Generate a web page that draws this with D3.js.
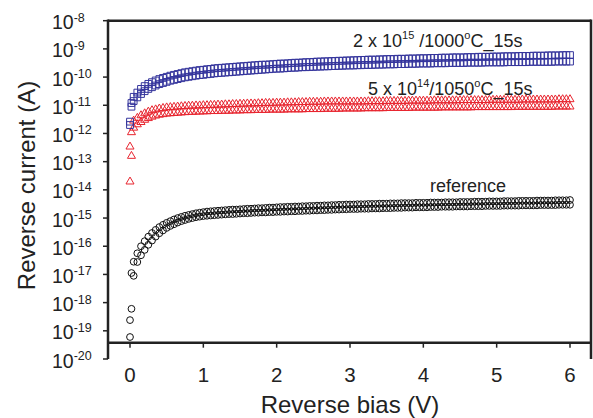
<!DOCTYPE html>
<html><head><meta charset="utf-8">
<script src="https://cdn.jsdelivr.net/npm/d3@7"></script>
<style>
html,body{margin:0;padding:0;background:#fff;}
svg text{font-family:"Liberation Sans",Arial,sans-serif;fill:#222;}
</style></head>
<body>
<svg id="chart" width="593" height="418"></svg>
<script>
// Reverse bias (V) sample positions
const biasV = [0,0.02,0.05,0.1,0.15,0.2,0.25,0.3,0.35,0.4,0.45,0.5,0.55,0.6,0.65,0.7,0.75,0.8,0.85,0.9,0.95,1,
1.05,1.1,1.15,1.2,1.25,1.3,1.35,1.4,1.45,1.5,1.55,1.6,1.65,1.7,1.75,1.8,1.85,1.9,1.95,2,
2.05,2.1,2.15,2.2,2.25,2.3,2.35,2.4,2.45,2.5,2.55,2.6,2.65,2.7,2.75,2.8,2.85,2.9,2.95,3,
3.05,3.1,3.15,3.2,3.25,3.3,3.35,3.4,3.45,3.5,3.55,3.6,3.65,3.7,3.75,3.8,3.85,3.9,3.95,4,
4.05,4.1,4.15,4.2,4.25,4.3,4.35,4.4,4.45,4.5,4.55,4.6,4.65,4.7,4.75,4.8,4.85,4.9,4.95,5,
5.05,5.1,5.15,5.2,5.25,5.3,5.35,5.4,5.45,5.5,5.55,5.6,5.65,5.7,5.75,5.8,5.85,5.9,5.95,6];

// log10 of reverse current (A), two sweeps per sample
const blueSweepA = [-11.58,-10.92,-10.70,-10.55,-10.42,-10.32,-10.24,-10.18,-10.12,-10.07,-10.03,-9.99,-9.95,-9.92,-9.89,-9.86,-9.83,-9.81,-9.79,-9.77,-9.75,-9.74,
-9.72,-9.71,-9.69,-9.68,-9.67,-9.66,-9.65,-9.64,-9.63,-9.62,-9.61,-9.60,-9.59,-9.58,-9.57,-9.56,-9.56,-9.55,-9.54,-9.53,
-9.52,-9.52,-9.51,-9.50,-9.49,-9.49,-9.48,-9.47,-9.47,-9.46,-9.45,-9.45,-9.44,-9.44,-9.43,-9.43,-9.42,-9.42,-9.41,-9.41,
-9.40,-9.40,-9.39,-9.39,-9.38,-9.38,-9.38,-9.37,-9.37,-9.36,-9.36,-9.36,-9.35,-9.35,-9.35,-9.34,-9.34,-9.34,-9.33,-9.33,
-9.33,-9.32,-9.32,-9.32,-9.31,-9.31,-9.31,-9.30,-9.30,-9.30,-9.30,-9.29,-9.29,-9.29,-9.28,-9.28,-9.28,-9.28,-9.27,-9.27,
-9.27,-9.26,-9.26,-9.26,-9.26,-9.25,-9.25,-9.25,-9.25,-9.24,-9.24,-9.24,-9.24,-9.23,-9.23,-9.23,-9.23,-9.22,-9.22,-9.22];
const blueSweepB = [-11.70,-11.05,-10.85,-10.72,-10.60,-10.50,-10.42,-10.36,-10.30,-10.25,-10.21,-10.17,-10.13,-10.10,-10.07,-10.04,-10.01,-9.99,-9.97,-9.95,-9.93,-9.92,
-9.90,-9.89,-9.87,-9.86,-9.85,-9.84,-9.83,-9.82,-9.81,-9.80,-9.79,-9.78,-9.77,-9.76,-9.75,-9.74,-9.73,-9.72,-9.71,-9.70,
-9.70,-9.69,-9.68,-9.67,-9.67,-9.66,-9.65,-9.65,-9.64,-9.64,-9.63,-9.63,-9.62,-9.62,-9.61,-9.61,-9.60,-9.60,-9.59,-9.59,
-9.59,-9.58,-9.58,-9.57,-9.57,-9.57,-9.56,-9.56,-9.56,-9.55,-9.55,-9.55,-9.54,-9.54,-9.54,-9.53,-9.53,-9.53,-9.52,-9.52,
-9.52,-9.52,-9.51,-9.51,-9.51,-9.51,-9.50,-9.50,-9.50,-9.50,-9.50,-9.49,-9.49,-9.49,-9.49,-9.49,-9.48,-9.48,-9.48,-9.48,
-9.48,-9.48,-9.47,-9.47,-9.47,-9.47,-9.47,-9.47,-9.46,-9.46,-9.46,-9.46,-9.46,-9.46,-9.46,-9.45,-9.45,-9.45,-9.45,-9.45];

const redSweepA = [-12.47,-11.96,-11.55,-11.45,-11.36,-11.29,-11.23,-11.18,-11.15,-11.12,-11.10,-11.08,-11.07,-11.06,-11.05,-11.04,-11.03,-11.02,-11.02,-11.01,-11.01,-11.00,
-11.00,-10.99,-10.99,-10.98,-10.98,-10.97,-10.97,-10.96,-10.96,-10.95,-10.95,-10.94,-10.94,-10.94,-10.93,-10.93,-10.92,-10.92,-10.92,-10.91,
-10.91,-10.91,-10.90,-10.90,-10.90,-10.89,-10.89,-10.89,-10.88,-10.88,-10.88,-10.88,-10.87,-10.87,-10.87,-10.87,-10.87,-10.87,-10.87,-10.87,
-10.87,-10.87,-10.87,-10.87,-10.86,-10.86,-10.86,-10.86,-10.86,-10.85,-10.85,-10.85,-10.85,-10.85,-10.85,-10.84,-10.84,-10.84,-10.84,-10.84,
-10.84,-10.84,-10.83,-10.83,-10.83,-10.83,-10.83,-10.83,-10.83,-10.82,-10.82,-10.82,-10.82,-10.82,-10.82,-10.82,-10.82,-10.81,-10.81,-10.81,
-10.81,-10.81,-10.81,-10.81,-10.81,-10.81,-10.80,-10.80,-10.80,-10.80,-10.80,-10.80,-10.80,-10.80,-10.80,-10.80,-10.79,-10.79,-10.79,-10.79];
const redSweepB = [-13.71,-12.80,-11.80,-11.68,-11.60,-11.52,-11.46,-11.41,-11.37,-11.34,-11.32,-11.30,-11.29,-11.28,-11.27,-11.26,-11.25,-11.24,-11.24,-11.23,-11.23,-11.22,
-11.22,-11.21,-11.21,-11.21,-11.20,-11.20,-11.20,-11.19,-11.19,-11.19,-11.18,-11.18,-11.18,-11.17,-11.17,-11.17,-11.17,-11.16,-11.16,-11.16,
-11.16,-11.16,-11.15,-11.15,-11.15,-11.15,-11.15,-11.14,-11.14,-11.14,-11.14,-11.14,-11.13,-11.13,-11.13,-11.13,-11.13,-11.12,-11.12,-11.12,
-11.12,-11.12,-11.12,-11.11,-11.11,-11.11,-11.11,-11.11,-11.11,-11.10,-11.10,-11.10,-11.10,-11.10,-11.10,-11.10,-11.09,-11.09,-11.09,-11.09,
-11.09,-11.09,-11.09,-11.09,-11.08,-11.08,-11.08,-11.08,-11.08,-11.08,-11.08,-11.08,-11.08,-11.07,-11.07,-11.07,-11.07,-11.07,-11.07,-11.07,
-11.07,-11.07,-11.07,-11.07,-11.06,-11.06,-11.06,-11.06,-11.06,-11.06,-11.06,-11.06,-11.06,-11.06,-11.06,-11.05,-11.05,-11.05,-11.05,-11.05];

const refSweepA = [-18.62,-16.95,-16.55,-16.25,-16.00,-15.82,-15.66,-15.53,-15.42,-15.32,-15.24,-15.17,-15.11,-15.05,-15.00,-14.96,-14.92,-14.89,-14.86,-14.83,-14.81,-14.79,
-14.77,-14.76,-14.75,-14.74,-14.73,-14.72,-14.71,-14.70,-14.70,-14.69,-14.68,-14.67,-14.67,-14.66,-14.65,-14.65,-14.64,-14.63,-14.63,-14.62,
-14.61,-14.61,-14.60,-14.60,-14.59,-14.59,-14.58,-14.58,-14.57,-14.57,-14.56,-14.56,-14.55,-14.55,-14.54,-14.54,-14.53,-14.53,-14.52,-14.52,
-14.52,-14.51,-14.51,-14.51,-14.50,-14.50,-14.50,-14.49,-14.49,-14.49,-14.48,-14.48,-14.48,-14.47,-14.47,-14.47,-14.47,-14.46,-14.46,-14.46,
-14.46,-14.45,-14.45,-14.45,-14.45,-14.44,-14.44,-14.44,-14.44,-14.43,-14.43,-14.43,-14.43,-14.42,-14.42,-14.42,-14.42,-14.41,-14.41,-14.41,
-14.41,-14.40,-14.40,-14.40,-14.40,-14.39,-14.39,-14.39,-14.39,-14.39,-14.38,-14.38,-14.38,-14.38,-14.38,-14.37,-14.37,-14.37,-14.37,-14.36];
const refSweepB = [-19.22,-18.22,-17.05,-16.56,-16.32,-16.13,-15.95,-15.80,-15.66,-15.54,-15.44,-15.35,-15.28,-15.22,-15.16,-15.11,-15.07,-15.03,-15.00,-14.97,-14.95,-14.93,
-14.92,-14.91,-14.90,-14.89,-14.88,-14.87,-14.86,-14.86,-14.85,-14.84,-14.83,-14.83,-14.82,-14.81,-14.81,-14.80,-14.80,-14.79,-14.79,-14.78,
-14.78,-14.77,-14.77,-14.76,-14.76,-14.75,-14.75,-14.74,-14.74,-14.73,-14.73,-14.72,-14.72,-14.71,-14.71,-14.70,-14.70,-14.69,-14.69,-14.68,
-14.68,-14.68,-14.67,-14.67,-14.67,-14.66,-14.66,-14.66,-14.65,-14.65,-14.65,-14.64,-14.64,-14.64,-14.63,-14.63,-14.63,-14.62,-14.62,-14.62,
-14.62,-14.61,-14.61,-14.61,-14.60,-14.60,-14.60,-14.60,-14.59,-14.59,-14.59,-14.59,-14.58,-14.58,-14.58,-14.58,-14.57,-14.57,-14.57,-14.57,
-14.57,-14.56,-14.56,-14.56,-14.56,-14.56,-14.55,-14.55,-14.55,-14.55,-14.55,-14.54,-14.54,-14.54,-14.54,-14.54,-14.53,-14.53,-14.53,-14.53];

const xTicks = [0,1,2,3,4,5,6];
const yTickExponents = [-8,-9,-10,-11,-12,-13,-14,-15,-16,-17,-18,-19,-20];
const seriesLabels = [
  [["2 x 10",""],["15","sup"],[" /1000",""],["o","sup"],["C_15s",""]],
  [["5 x 10",""],["14","sup"],["/1050",""],["o","sup"],["C_15s",""]],
  [["reference",""]]
];

const svg = d3.select("#chart");
const x = d3.scaleLinear().domain([0,6]).range([130,570]);
const y = d3.scaleLog().domain([1e-20,1e-8]).range([359,20.7]);
const pLeft = 108, pRight = 591, pTop = 20.7, pBottom = 359, xAxisY = 342.7;
const ink = "#222";

// series
const series = [
  {sweeps:[refSweepA, refSweepB], sym:d3.symbolCircle, size:36, color:"#111"},
  {sweeps:[redSweepA, redSweepB], sym:d3.symbolTriangle, size:28, color:"#e8252f"},
  {sweeps:[blueSweepA, blueSweepB], sym:d3.symbolSquare, size:46, color:"#34349c"}
];
series.forEach(s => {
  s.sweeps.forEach(vals => {
    const pts = biasV.map((v,i) => ({v, i: Math.pow(10, vals[i])}));
    svg.append("g").selectAll("path").data(pts).enter().append("path")
      .attr("d", d3.symbol().type(s.sym).size(s.size))
      .attr("transform", d => `translate(${x(d.v)},${y(d.i)})`)
      .attr("fill","none").attr("stroke", s.color).attr("stroke-width", 1);
  });
});

// frame
const fr = svg.append("g").attr("stroke", ink).attr("stroke-width", 2.5).attr("fill","none");
fr.append("line").attr("x1",pLeft).attr("x2",pLeft).attr("y1",pTop-1.2).attr("y2",pBottom);
fr.append("line").attr("x1",pLeft).attr("x2",pRight).attr("y1",pTop).attr("y2",pTop);
fr.append("line").attr("x1",pRight).attr("x2",pRight).attr("y1",pTop-1.2).attr("y2",pBottom);
fr.append("line").attr("x1",pLeft).attr("x2",pRight).attr("y1",xAxisY).attr("y2",xAxisY);

// y ticks
yTickExponents.forEach(e => {
  const yy = y(Math.pow(10,e));
  svg.append("line").attr("x1",pLeft-5).attr("x2",pLeft).attr("y1",yy).attr("y2",yy)
    .attr("stroke",ink).attr("stroke-width",1.5);
  const t = svg.append("text").attr("x",52).attr("y",yy+8.5).attr("font-size",19.5);
  t.append("tspan").text("10");
  t.append("tspan").attr("font-size",12.5).attr("dy",-7.6).text(String(e));
});
// x ticks
xTicks.forEach(v => {
  svg.append("line").attr("x1",x(v)).attr("x2",x(v)).attr("y1",xAxisY).attr("y2",xAxisY+5)
    .attr("stroke",ink).attr("stroke-width",1.5);
  svg.append("text").attr("x",x(v)).attr("y",382).attr("text-anchor","middle").attr("font-size",20.5).text(v);
});

// axis titles
svg.append("text").attr("x",x(3)).attr("y",412.5).attr("text-anchor","middle").attr("font-size",24).text("Reverse bias (V)");
svg.append("text").attr("transform","translate(35,185.5) rotate(-90)").attr("text-anchor","middle").attr("font-size",24).text("Reverse current (A)");

// series labels
const labelPos = [[353,46.7],[368,95],[430,191.7]];
seriesLabels.forEach((parts,k) => {
  const t = svg.append("text").attr("x",labelPos[k][0]).attr("y",labelPos[k][1]).attr("font-size",18);
  let raised = false;
  parts.forEach(([txt,kind]) => {
    const sp = t.append("tspan").text(txt);
    if (kind === "sup") { sp.attr("font-size",11).attr("dy", raised ? 0 : -8); raised = true; }
    else { if (raised) sp.attr("dy",8); raised = false; }
  });
});
</script>
</body></html>
